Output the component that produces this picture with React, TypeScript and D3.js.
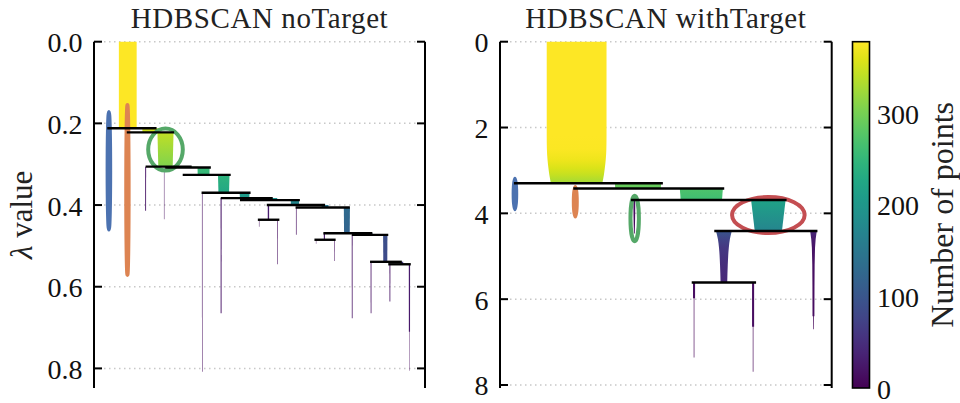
import React from "react";
import * as d3 from "d3";

const FONT = "'Liberation Serif', 'DejaVu Serif', serif";
const MAX_POINTS = 378;

// colorbar
const cbarTicks = [0, 100, 200, 300];

// ---- left panel: noTarget ----
// x positions are in percent of the axis width, profiles are [lambda, number of points]
const leftTicks = [0, 0.2, 0.4, 0.6, 0.8];
const leftTickLabels = ["0.0", "0.2", "0.4", "0.6", "0.8"];

const leftBranches = [
  { x: 10.2, profile: [[0, 378], [0.212, 378]] },
  { x: 17.1, profile: [[0.212, 352], [0.222, 346]] },
  { x: 21.6, profile: [[0.222, 342], [0.307, 305]] },
  { x: 29.5, profile: [[0.306, 280], [0.308, 278]] },
  { x: 33.1, profile: [[0.308, 256], [0.326, 250]] },
  { x: 39.2, profile: [[0.326, 245], [0.370, 225]] },
  { x: 45.5, profile: [[0.370, 210], [0.383, 200]] },
  { x: 54.0, profile: [[0.383, 192], [0.388, 188]] },
  { x: 60.7, profile: [[0.388, 178], [0.400, 170]] },
  { x: 69.8, profile: [[0.400, 150], [0.406, 146]] },
  { x: 52.7, profile: [[0.400, 30], [0.436, 28]] },
  { x: 76.4, profile: [[0.406, 130], [0.469, 120]] },
  { x: 69.6, profile: [[0.469, 26], [0.485, 24]] },
  { x: 83.4, profile: [[0.469, 104], [0.473, 100]] },
  { x: 88.0, profile: [[0.473, 92], [0.539, 85]] },
  { x: 93.0, profile: [[0.539, 60], [0.545, 58]] },
  // leaves
  { x: 15.6, profile: [[0.306, 20], [0.414, 18]] },
  { x: 21.2, profile: [[0.308, 10], [0.435, 9]] },
  { x: 32.7, profile: [[0.370, 12], [0.808, 11]] },
  { x: 38.4, profile: [[0.383, 22], [0.665, 20]] },
  { x: 49.9, profile: [[0.436, 10], [0.453, 9]] },
  { x: 55.5, profile: [[0.436, 13], [0.545, 12]] },
  { x: 61.1, profile: [[0.406, 14], [0.473, 13]] },
  { x: 67.1, profile: [[0.485, 8], [0.495, 8]] },
  { x: 72.6, profile: [[0.485, 12], [0.537, 11]] },
  { x: 78.0, profile: [[0.473, 18], [0.677, 16]] },
  { x: 83.7, profile: [[0.539, 17], [0.665, 16]] },
  { x: 89.4, profile: [[0.545, 19], [0.636, 18]] },
  { x: 95.3, profile: [[0.545, 27], [0.710, 25], [0.710, 9], [0.806, 8]] },
];

// [lambda, x start, x end]
const leftLines = [
  [0.212, 4.0, 18.9],
  [0.222, 9.9, 24.2],
  [0.306, 15.6, 29.5],
  [0.308, 21.5, 35.3],
  [0.326, 26.8, 41.3],
  [0.370, 32.5, 47.3],
  [0.383, 38.3, 54.0],
  [0.388, 44.1, 62.2],
  [0.400, 52.2, 69.8],
  [0.406, 60.9, 77.3],
  [0.436, 49.5, 56.0],
  [0.469, 69.3, 84.1],
  [0.473, 77.9, 88.9],
  [0.485, 66.6, 73.0],
  [0.539, 83.4, 93.0],
  [0.545, 88.9, 95.7],
];

// selected clusters: centre x, centre lambda, half width (x units), half height (lambda)
const leftClusters = [
  { x: 4.5, lambda: 0.316, rx: 0.39, ry: 0.144, color: "#4c72b0" },
  { x: 10.1, lambda: 0.363, rx: 0.36, ry: 0.208, color: "#dd8452" },
  { x: 21.6, lambda: 0.264, rx: 5.23, ry: 0.0514, color: "#55a868" },
];

// ---- right panel: withTarget ----
const rightTicks = [0, 2, 4, 6, 8];
const rightTickLabels = ["0", "2", "4", "6", "8"];

const rightBranches = [
  { x: 23.1, profile: [[0, 378], [2.2, 378], [2.5, 376], [2.75, 368], [2.95, 356], [3.1, 345], [3.3, 325]] },
  { x: 41.6, profile: [[3.30, 292], [3.42, 288]] },
  { x: 60.7, profile: [[3.42, 272], [3.67, 262]] },
  { x: 80.9, profile: [[3.69, 218], [4.41, 172]] },
  { x: 67.5, profile: [[4.41, 100], [4.6, 76], [4.8, 62], [5.2, 49], [5.62, 42]] },
  { x: 94.5, profile: [[4.41, 42], [4.6, 28], [4.8, 20], [5.2, 15], [5.7, 13], [6.4, 12], [6.4, 5], [6.7, 4]] },
  { x: 40.5, profile: [[3.69, 12], [4.1, 10], [4.47, 5]] },
  { x: 58.5, profile: [[5.61, 13], [5.98, 13], [5.98, 4], [7.36, 4]] },
  { x: 76.3, profile: [[5.61, 13], [6.64, 13], [6.64, 4], [7.69, 4]] },
];

const rightLines = [
  [3.30, 4.2, 49.1],
  [3.42, 22.1, 67.6],
  [3.69, 39.5, 86.4],
  [4.41, 64.6, 95.7],
  [5.61, 57.8, 77.2],
];

const rightClusters = [
  { x: 4.5, lambda: 3.55, rx: 0.39, ry: 0.354, color: "#4c72b0" },
  { x: 22.7, lambda: 3.73, rx: 0.45, ry: 0.343, color: "#dd8452" },
  { x: 40.6, lambda: 4.12, rx: 1.27, ry: 0.529, color: "#55a868" },
  { x: 80.9, lambda: 4.04, rx: 10.94, ry: 0.42, color: "#c44e52" },
];

const color = d3.scaleSequential(d3.interpolateViridis).domain([0, MAX_POINTS]);

const Panel = ({ id, frame, yMax, ticks, tickLabels, branches, lines, clusters, sizeMax, title, yLabel }) => {
  const x = d3.scaleLinear().domain([0, 100]).range([frame.left, frame.right]);
  const y = d3.scaleLinear().domain([0, yMax]).range([frame.top, frame.bottom]);
  const size = d3.scaleLinear().domain([0, MAX_POINTS]).range([0, sizeMax]);

  return (
    <g>
      {ticks.map((t) => (
        <line key={"g" + t} x1={frame.left} x2={frame.right} y1={y(t)} y2={y(t)}
          stroke="#c8c8c8" strokeWidth={1.5} strokeDasharray="1.5,3.5" />
      ))}

      <defs>
        {branches.map((b, i) => {
          const y1 = y(b.profile[0][0]);
          const y2 = y(b.profile[b.profile.length - 1][0]);
          return (
            <linearGradient key={i} id={`${id}-b${i}`} gradientUnits="userSpaceOnUse" x1={0} x2={0} y1={y1} y2={y2}>
              {b.profile.map((p, j) => (
                <stop key={j} offset={(y(p[0]) - y1) / (y2 - y1)} stopColor={color(p[1])} />
              ))}
            </linearGradient>
          );
        })}
      </defs>

      {branches.map((b, i) => {
        const stepped = b.profile.some((p, j) => j > 0 && p[0] === b.profile[j - 1][0]);
        const area = d3.area()
          .y((d) => y(d[0]))
          .x0((d) => x(b.x) - size(d[1]) / 2)
          .x1((d) => x(b.x) + size(d[1]) / 2)
          .curve(stepped || b.profile.length < 3 ? d3.curveLinear : d3.curveMonotoneY);
        return <path key={i} d={area(b.profile)} fill={`url(#${id}-b${i})`} />;
      })}

      {clusters.map((c, i) => (
        <ellipse key={i} cx={x(c.x)} cy={y(c.lambda)} rx={x(c.x + c.rx) - x(c.x)} ry={y(c.lambda + c.ry) - y(c.lambda)}
          fill="none" stroke={c.color} strokeWidth={4} />
      ))}

      {lines.map((l, i) => (
        <line key={i} x1={x(l[1])} x2={x(l[2])} y1={y(l[0])} y2={y(l[0])} stroke="#000" strokeWidth={2.4} />
      ))}

      <line x1={frame.left} x2={frame.left} y1={frame.top} y2={frame.bottom} stroke="#000" strokeWidth={2} />
      <line x1={frame.right} x2={frame.right} y1={frame.top} y2={frame.bottom} stroke="#000" strokeWidth={2} />
      {ticks.map((t, i) => (
        <g key={"t" + t}>
          <line x1={frame.left} x2={frame.left + 8} y1={y(t)} y2={y(t)} stroke="#000" strokeWidth={2} />
          <line x1={frame.right - 8} x2={frame.right} y1={y(t)} y2={y(t)} stroke="#000" strokeWidth={2} />
          <text x={frame.left - 11.5} y={y(t) + 1} textAnchor="end" dominantBaseline="central"
            fontFamily={FONT} fontSize={28} fill="#111">{tickLabels[i]}</text>
        </g>
      ))}

      <text x={(frame.left + frame.right) / 2} y={27.5} textAnchor="middle" fontFamily={FONT} fontSize={29}
        letterSpacing={0.6} fill="#222">
        {title}
      </text>
      {yLabel && (
        <text transform={`translate(32, ${(frame.top + frame.bottom) / 2}) rotate(-90)`} textAnchor="middle"
          fontFamily={FONT} fontSize={31} fill="#222">
          <tspan fontStyle="italic">λ</tspan> value
        </text>
      )}
    </g>
  );
};

const Colorbar = ({ left, width, top, bottom }) => {
  const y = d3.scaleLinear().domain([0, MAX_POINTS]).range([bottom, top]);
  const stops = d3.range(0, 1.0001, 0.05);
  return (
    <g>
      <defs>
        <linearGradient id="cbar" x1={0} x2={0} y1={1} y2={0}>
          {stops.map((s) => (
            <stop key={s} offset={s} stopColor={d3.interpolateViridis(s)} />
          ))}
        </linearGradient>
      </defs>
      <rect x={left} y={top} width={width} height={bottom - top} fill="url(#cbar)" stroke="#000" strokeWidth={1.6} />
      {cbarTicks.map((t) => (
        <text key={t} x={left + width + 7.5} y={y(t) + 1} dominantBaseline="central" fontFamily={FONT} fontSize={28} fill="#111">
          {t}
        </text>
      ))}
      <text transform={`translate(953, ${(top + bottom) / 2}) rotate(-90)`} textAnchor="middle" fontFamily={FONT} fontSize={32} fill="#222">
        Number of points
      </text>
    </g>
  );
};

export default function App() {
  return (
    <svg width={960} height={403} style={{ position: "absolute", left: 0, top: 0, background: "#fff" }}>
      <rect width={960} height={403} fill="#fff" />
      <Panel id="left" frame={{ left: 94, right: 425, top: 41.7, bottom: 388 }} yMax={0.848}
        ticks={leftTicks} tickLabels={leftTickLabels} branches={leftBranches} lines={leftLines}
        clusters={leftClusters} sizeMax={17.8} title="HDBSCAN noTarget" yLabel />
      <Panel id="right" frame={{ left: 500, right: 831.7, top: 41.7, bottom: 388 }} yMax={8.07}
        ticks={rightTicks} tickLabels={rightTickLabels} branches={rightBranches} lines={rightLines}
        clusters={rightClusters} sizeMax={59.8} title="HDBSCAN withTarget" />
      <Colorbar left={852.5} width={17} top={41.7} bottom={388} />
    </svg>
  );
}
